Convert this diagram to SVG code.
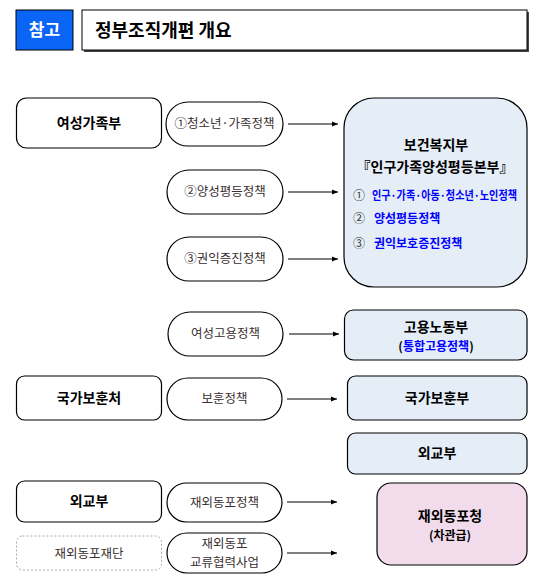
<svg xmlns="http://www.w3.org/2000/svg" width="543" height="579" viewBox="0 0 543 579">
<defs>
<marker id="ah" viewBox="0 0 10 10" refX="10" refY="5" markerWidth="6" markerHeight="6" orient="auto" markerUnits="userSpaceOnUse"><path d="M0,1 L10,5 L0,9 z" fill="#000"/></marker>
</defs>
<style>
text{font-family:"Noto Sans CJK KR","Noto Sans",sans-serif;}
.node{fill:#fff;stroke:#000;stroke-width:1.2;}
.pill{fill:#fff;stroke:#000;stroke-width:1.2;}
.blue{fill:#e5edf7;stroke:#000;stroke-width:1.2;}
.pink{fill:#f2dcec;stroke:#000;stroke-width:1.2;}
.dash{fill:#fff;stroke:#aaa;stroke-width:1;stroke-dasharray:2 2;}
.h{font-size:14px;font-weight:bold;fill:#000;text-anchor:middle;}
.p{font-size:12.5px;fill:#3a3030;text-anchor:middle;}
.bl{font-size:12px;font-weight:bold;fill:#0000ff;}
.num{font-size:12px;fill:#333;}
.conn line{stroke:#000;stroke-width:1;marker-end:url(#ah);}
</style>
<g id="title">
<rect x="16" y="10" width="57" height="40" fill="#0a64f5" stroke="#000" stroke-width="1"/>
<text x="44.5" y="36" font-size="17" font-weight="bold" fill="#fff" text-anchor="middle">참고</text>
<rect x="84" y="12" width="445" height="40" fill="#444"/>
<rect x="82" y="10" width="445" height="40" fill="#fff" stroke="#000" stroke-width="1"/>
<text x="95" y="37" font-size="18" font-weight="bold" fill="#000">정부조직개편 개요</text>
</g>
<g id="mogef">
<rect class="node" x="16.5" y="98" width="145" height="50" rx="10"/>
<text class="h" x="89" y="128">여성가족부</text>
</g>
<g id="p1"><rect class="pill" x="166" y="102" width="117" height="44" rx="22"/><text class="p" x="224.5" y="128">①청소년·가족정책</text></g>
<g id="p2"><rect class="pill" x="167" y="170" width="116" height="44" rx="22"/><text class="p" x="225" y="196">②양성평등정책</text></g>
<g id="p3"><rect class="pill" x="167" y="237" width="116" height="44" rx="22"/><text class="p" x="225" y="263">③권익증진정책</text></g>
<g id="mohw">
<rect class="blue" x="344" y="98" width="183" height="189" rx="30"/>
<text class="h" x="436" y="150">보건복지부</text>
<text class="h" x="435" y="172" font-size="13.5">『인구가족양성평등본부』</text>
<text class="num" x="353" y="200">①</text>
<text class="bl" x="372" y="200" textLength="145" lengthAdjust="spacingAndGlyphs">인구·가족·아동·청소년·노인정책</text>
<text class="num" x="353" y="223">②</text>
<text class="bl" x="374" y="223">양성평등정책</text>
<text class="num" x="353" y="248">③</text>
<text class="bl" x="374" y="248">권익보호증진정책</text>
</g>
<g id="p4"><rect class="pill" x="168" y="312" width="115" height="44" rx="22"/><text class="p" x="225.5" y="338">여성고용정책</text></g>
<g id="moel">
<rect class="blue" x="344.5" y="310" width="182.5" height="50" rx="9"/>
<text class="h" x="436" y="332">고용노동부</text>
<text x="436" y="351" font-size="12" font-weight="bold" text-anchor="middle" fill="#000">(<tspan fill="#0000ff">통합고용정책</tspan>)</text>
</g>
<g id="mpva">
<rect class="node" x="16.5" y="376" width="145" height="44" rx="8"/>
<text class="h" x="89" y="403">국가보훈처</text>
</g>
<g id="p5"><rect class="pill" x="167" y="378" width="115" height="42" rx="21"/><text class="p" x="224.5" y="403">보훈정책</text></g>
<g id="mpvm">
<rect class="blue" x="347.5" y="376" width="179.5" height="44" rx="8"/>
<text class="h" x="437" y="403">국가보훈부</text>
</g>
<g id="mofa-new">
<rect class="blue" x="347.5" y="433" width="179.5" height="41" rx="8"/>
<text class="h" x="437" y="458">외교부</text>
</g>
<g id="mofa">
<rect class="node" x="16.5" y="481" width="145" height="41" rx="8"/>
<text class="h" x="89" y="506">외교부</text>
</g>
<g id="p6"><rect class="pill" x="167" y="483" width="115" height="39" rx="19.5"/><text class="p" x="224.5" y="507">재외동포정책</text></g>
<g id="okf">
<rect class="dash" x="16.5" y="536" width="145" height="34" rx="6"/>
<text class="p" x="89" y="558" fill="#333">재외동포재단</text>
</g>
<g id="p7"><rect class="pill" x="167" y="533" width="115" height="40" rx="20"/><text class="p" x="224.5" y="548" font-size="12">재외동포</text><text class="p" x="224.5" y="567" font-size="12">교류협력사업</text></g>
<g id="oka">
<rect class="pink" x="377" y="483" width="150" height="82" rx="14"/>
<text class="h" x="450" y="521">재외동포청</text>
<text x="450" y="540" font-size="12" font-weight="bold" text-anchor="middle" fill="#000">(차관급)</text>
</g>
<g id="connectors" class="conn">
<line x1="288" y1="124" x2="338" y2="124"/>
<line x1="288" y1="192" x2="338" y2="192"/>
<line x1="288" y1="259" x2="338" y2="259"/>
<line x1="289" y1="334" x2="339" y2="334"/>
<line x1="287" y1="399" x2="337" y2="399"/>
<line x1="287" y1="502" x2="337" y2="502"/>
<line x1="287" y1="553" x2="337" y2="553"/>
</g>
</svg>
